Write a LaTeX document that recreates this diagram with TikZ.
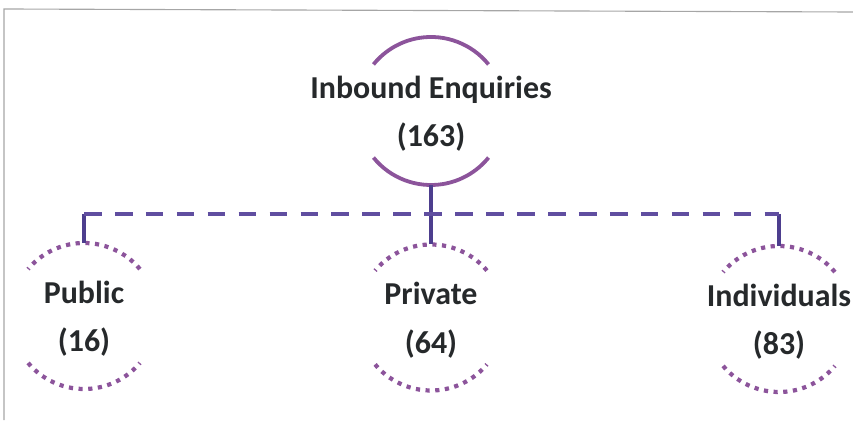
\documentclass[tikz,border=0pt]{standalone}
\usepackage{fontspec}
\setmainfont{Carlito}
\definecolor{arcpurple}{HTML}{8C549B}
\definecolor{buspurple}{HTML}{604EA0}
\definecolor{stemblue}{HTML}{4D3E8E}
\definecolor{txtgray}{HTML}{26292B}
\tikzset{
  unit/.style={inner sep=0pt, outer sep=0pt, yshift=-2pt,
    align=center, text=txtgray, font=\fontsize{22.7}{34.5}\selectfont\bfseries},
  solidarc/.style={arcpurple, line width=2.7pt},
  dotarc/.style={arcpurple, line width=3pt, dash pattern=on 3pt off 3.9pt},
  bus/.style={buspurple, line width=2.7pt, dash pattern=on 12.5pt off 9.5pt},
  stem/.style={stemblue, line width=2.7pt}
}
\begin{document}
\begin{tikzpicture}[x=0.025cm, y=0.025cm]
  \useasboundingbox (0,0) rectangle (853,420);
  % frame
  \draw[gray!70, line width=0.8pt] (4,0) -- (4,411) -- (853,408);

  % circle centres
  \coordinate (Ac) at (431,309);
  \coordinate (Pc) at (84,104);
  \coordinate (Rc) at (431,102.5);
  \coordinate (Ic) at (779,101);

  \node[unit] (A) at (Ac) {Inbound Enquiries\\(163)};
  \node[unit] (P) at (Pc) {Public\\(16)};
  \node[unit] (R) at (Rc) {Private\\(64)};
  \node[unit] (I) at (Ic) {Individuals\\(83)};

  \coordinate (B) at (431,206);

  \draw[solidarc] ([shift={(39:1.85cm)}]Ac) arc[start angle=39, end angle=141, radius=1.85cm];
  \draw[solidarc] ([shift={(219:1.85cm)}]Ac) arc[start angle=219, end angle=321, radius=1.85cm];
  \foreach \n in {P,R,I}{
    \draw[dotarc] ([shift={(40:1.825cm)}]\n c) arc[start angle=40, end angle=140, radius=1.825cm];
    \draw[dotarc] ([shift={(220:1.825cm)}]\n c) arc[start angle=220, end angle=320, radius=1.825cm];
    \draw[stem] (\n c |- B) -- ([yshift=1.825cm]\n c);
  }
  \draw[stem] ([yshift=-1.85cm]Ac) -- (B);
  \draw[bus] (Pc |- B) -- (Ic |- B);
\end{tikzpicture}
\end{document}
